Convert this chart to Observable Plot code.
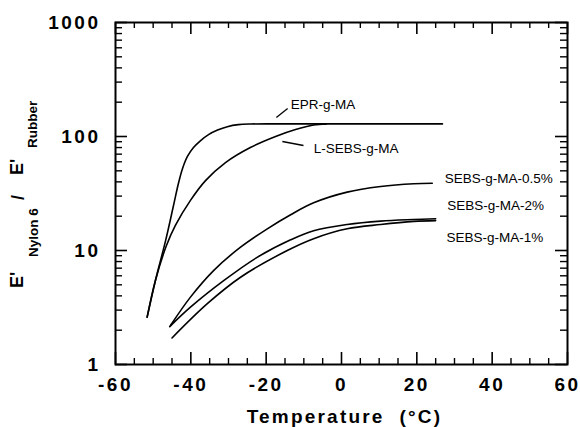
<!DOCTYPE html>
<html><head><meta charset="utf-8">
<script src="https://cdn.jsdelivr.net/npm/d3@7"></script>
<script src="https://cdn.jsdelivr.net/npm/@observablehq/plot@0.6"></script>
<style>
html,body{margin:0;padding:0;background:#fff}
</style>
</head><body><div id="chart"></div>
<script>
// ---- data (temperature °C, modulus ratio) ----
const eprT   = [-51.6,-49.4,-46.7,-44.6,-43.3,-42.2,-40.9,-39.3,-37.4,-35.3,-32.9,-30.3,-27.4,-24.2,-15,0,26.8];
const eprV   = [2.6,5.46,12.2,24.8,38.7,52.4,66.8,80.1,92.2,104,114,122,127,128.7,129,129,129];
const lsebsT = [-51.6,-49.4,-46.5,-44.1,-40.1,-36.1,-30.8,-24.2,-17.5,-12.2,-7.4,-4];
const lsebsV = [2.6,5.46,11,16.6,27.5,41,59,80,100,115,126,129];
const s05T   = [-45.4,-40.1,-33.9,-26.8,-19.7,-13.5,-7.4,1.5,10.4,19.2,24.1];
const s05V   = [2.2,3.9,6.7,10.7,15.5,20.6,26.2,32.5,36.4,38.5,38.9];
const s2T    = [-45.6,-40.1,-31.2,-22.4,-13.5,-7.4,1.5,10.4,19.2,25];
const s2V    = [2.15,3.18,5.46,8.7,12.4,14.9,16.9,18.1,18.7,19.0];
const s1T    = [-45,-35.7,-26.8,-14.4,-7.4,1.5,10.4,19.2,25];
const s1V    = [1.71,3.4,5.83,10.0,12.7,15.5,16.9,18.0,18.3];

const seriesNames = ["EPR-g-MA","L-SEBS-g-MA","SEBS-g-MA-0.5%","SEBS-g-MA-2%","SEBS-g-MA-1%"];
const seriesT = [eprT, lsebsT, s05T, s2T, s1T];
const seriesV = [eprV, lsebsV, s05V, s2V, s1V];

// labels: text, anchor position (data coords)
const labelText = ["EPR-g-MA","L-SEBS-g-MA","SEBS-g-MA-0.5%","SEBS-g-MA-2%","SEBS-g-MA-1%"];
const labelT    = [-13.5,-7.4,27.4,28.1,27.9];
const labelV    = [191,78.5,42.8,24.8,13.0];
// leader lines
const leaderT1 = [-17.3,-15.7], leaderV1 = [147,90.4];
const leaderT2 = [-14.3,-10.1], leaderV2 = [176,83.4];

// ticks
const xMajor = [-60,-40,-20,0,20,40,60];
const xMinor = [-55,-50,-45,-35,-30,-25,-15,-10,-5,5,10,15,25,30,35,45,50,55];
const yMajor = [1,10,100,1000];
const yMinor = [2,3,4,5,6,7,8,9,20,30,40,50,60,70,80,90,200,300,400,500,600,700,800,900];
const xTitle = "Temperature\u00a0 (°C)";

// ---- build ----
const rows = [];
seriesNames.forEach((s,i)=>seriesT[i].forEach((t,j)=>rows.push({s, t, v: seriesV[i][j]})));
const labels = labelText.map((text,i)=>({text, t: labelT[i], v: labelV[i]}));
const leaders = leaderT1.map((t,i)=>({t1:t, v1:leaderV1[i], t2:leaderT2[i], v2:leaderV2[i]}));

const W=580, H=427, mL=115, mR=13, mT=22, mB=63;
const iw = W-mL-mR, ih = H-mT-mB;
const FONT = "Liberation Sans, Arial, Helvetica, sans-serif";

const svg = Plot.plot({
  width: W, height: H,
  marginLeft: mL, marginRight: mR, marginTop: mT, marginBottom: mB,
  x: {domain: [-60, 60]},
  y: {type: "log", domain: [1, 1000]},
  marks: [
    Plot.frame({fill: "none", stroke: "#000", strokeWidth: 2}),
    // inward ticks on all four sides
    Plot.ruleX(xMajor, {insetTop: ih-12, strokeWidth: 1.6}),
    Plot.ruleX(xMinor, {insetTop: ih-6, strokeWidth: 1.4}),
    Plot.ruleX(xMajor, {insetBottom: ih-12, strokeWidth: 1.6}),
    Plot.ruleX(xMinor, {insetBottom: ih-6, strokeWidth: 1.4}),
    Plot.ruleY(yMajor, {insetRight: iw-12, strokeWidth: 1.6}),
    Plot.ruleY(yMinor, {insetRight: iw-7, strokeWidth: 1.4}),
    Plot.ruleY(yMajor, {insetLeft: iw-12, strokeWidth: 1.6}),
    Plot.ruleY(yMinor, {insetLeft: iw-7, strokeWidth: 1.4}),
    Plot.axisX(xMajor, {anchor: "bottom", tickSize: 0, tickPadding: 13, fontSize: 19, fontWeight: "bold", fontFamily: FONT, tickFormat: d => String(d), label: null}),
    Plot.axisY(yMajor, {anchor: "left", tickSize: 0, tickPadding: 15, fontSize: 19, fontWeight: "bold", fontFamily: FONT, tickFormat: d => String(d), label: null}),
    Plot.line(rows, {x: "t", y: "v", z: "s", curve: "catmull-rom", strokeWidth: 1.6}),
    Plot.link(leaders, {x1: "t1", y1: "v1", x2: "t2", y2: "v2", strokeWidth: 1.3}),
    Plot.text(labels, {x: "t", y: "v", text: "text", textAnchor: "start", fontSize: 13.5, fontFamily: FONT}),
    Plot.text([xTitle], {frameAnchor: "bottom", dy: 58, dx: 3, fontSize: 19, fontWeight: "bold", fontFamily: FONT})
  ]
});

const sel = d3.select(svg);
sel.selectAll('g[aria-label="x-axis tick label"], g[aria-label="y-axis tick label"]').attr("letter-spacing", "2.5px");
const texts = sel.selectAll('g[aria-label="text"]').nodes();
if (texts.length) d3.select(texts[texts.length-1]).attr("letter-spacing", "2.2px");

// y-axis title, rotated, built from pieces
const yt = sel.append("g").attr("transform", "rotate(-90)").attr("font-family", FONT).attr("font-weight", "bold").attr("text-anchor", "start");
function piece(txt, size, startY, baseX){
  yt.append("text").attr("x", -startY).attr("y", baseX).attr("font-size", size).text(txt);
}
piece("E'", 18, 288, 23);
piece("Nylon 6", 13.5, 257, 38);
piece("/", 18, 200, 24);
piece("E'", 18, 175, 23);
piece("Rubber", 13.5, 148, 37);

document.getElementById("chart").appendChild(svg);
</script>
</body></html>
